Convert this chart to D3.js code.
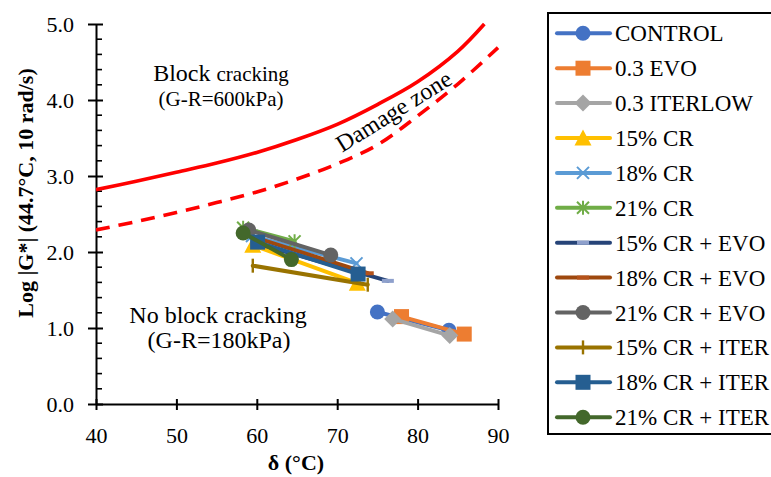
<!DOCTYPE html>
<html>
<head>
<meta charset="utf-8">
<script src="https://cdn.jsdelivr.net/npm/d3@7"></script>
<style>
  html, body { margin: 0; padding: 0; background: #fff; }
  svg text { font-family: "Liberation Serif", "Times New Roman", "DejaVu Serif", serif !important; fill: #000; }
</style>
</head>
<body>
<svg id="chart" width="771" height="477"></svg>
<script>
// Glover-Rowe limit curves (δ in °C, log |G*| in kPa)
const limitDelta600 = [40, 45, 50, 55, 60, 65, 70, 75, 80, 85, 88.3];
const limitLogG600  = [2.82, 2.93, 3.05, 3.17, 3.31, 3.48, 3.68, 3.94, 4.24, 4.64, 5.0];
const limitDelta180 = [40, 45, 50, 55, 60, 65, 70, 75, 80, 85, 90];
const limitLogG180  = [2.29, 2.40, 2.52, 2.65, 2.79, 2.96, 3.16, 3.41, 3.79, 4.21, 4.69];

// Binder series
const seriesNames = [
  "CONTROL", "0.3 EVO", "0.3 ITERLOW", "15% CR", "18% CR", "21% CR",
  "15% CR + EVO", "18% CR + EVO", "21% CR + EVO",
  "15% CR + ITER", "18% CR + ITER", "21% CR + ITER"
];
const seriesDelta = [
  [75.0, 83.9], [78.0, 85.8], [76.9, 84.0], [59.5, 72.5], [59.4, 72.4], [58.3, 64.7],
  [60.0, 76.3], [60.1, 73.8], [59.0, 69.2], [59.5, 73.8], [60.1, 72.6], [58.3, 64.3]
];
const seriesLogG = [
  [1.21, 0.97], [1.15, 0.92], [1.12, 0.90], [2.09, 1.59], [2.21, 1.85], [2.32, 2.14],
  [2.11, 1.62], [2.18, 1.72], [2.29, 1.96], [1.82, 1.57], [2.13, 1.71], [2.25, 1.90]
];
const seriesColors = [
  "#4472C4", "#ED7D31", "#A5A5A5", "#FFC000", "#5B9BD5", "#70AD47",
  "#264478", "#9E480E", "#636363", "#997300", "#255E91", "#43682B"
];
const seriesMarkers = [
  "circle", "square", "diamond", "triangle", "x", "asterisk",
  "dash", "dash", "circle", "plus", "square", "circle"
];
const dashMarkerColors = { 6: "#8EA0CC", 7: "#B5521A" };

const xTicks = [40, 50, 60, 70, 80, 90];
const yTicks = [0, 1, 2, 3, 4, 5];

const svg = d3.select("#chart");
const x = d3.scaleLinear().domain([40, 90]).range([96, 498]);
const y = d3.scaleLinear().domain([0, 5]).range([404, 24]);

// clip for the limit curves
svg.append("defs").append("clipPath").attr("id", "plotClip")
  .append("rect").attr("x", 96).attr("y", 22).attr("width", 404).attr("height", 384);

// y minor ticks (inside)
const yMinor = d3.range(0, 5.0001, 0.2).filter(v => Math.abs(v - Math.round(v)) > 1e-6);
svg.append("g").selectAll("line").data(yMinor).join("line")
  .attr("x1", x(40)).attr("x2", x(40) + 6)
  .attr("y1", d => y(d)).attr("y2", d => y(d))
  .attr("stroke", "#000").attr("stroke-width", 1.6);

// axes
const xAxis = svg.append("g").attr("transform", `translate(0,${y(0)})`)
  .call(d3.axisBottom(x).tickValues(xTicks).tickFormat(d3.format("d")).tickSizeOuter(0).tickSizeInner(5).tickPadding(18));
xAxis.select(".domain").attr("stroke", "#000").attr("stroke-width", 2);
xAxis.selectAll(".tick line").attr("y1", -5).attr("y2", 6).attr("stroke", "#000").attr("stroke-width", 2);
xAxis.selectAll(".tick text").attr("font-size", 22);

const yAxis = svg.append("g").attr("transform", `translate(${x(40)},0)`)
  .call(d3.axisLeft(y).tickValues(yTicks).tickFormat(d3.format(".1f")).tickSizeOuter(0).tickSizeInner(8).tickPadding(14));
yAxis.select(".domain").attr("stroke", "#000").attr("stroke-width", 2);
yAxis.selectAll(".tick line").attr("x1", -8).attr("x2", 7).attr("stroke", "#000").attr("stroke-width", 2);
yAxis.selectAll(".tick text").attr("font-size", 22);

// axis titles
svg.append("text").attr("x", 296).attr("y", 470).attr("text-anchor", "middle")
  .attr("font-size", 22).attr("font-weight", "bold").text("δ (°C)");
svg.append("text").attr("transform", "translate(33,193) rotate(-90)").attr("text-anchor", "middle")
  .attr("font-size", 22).attr("font-weight", "bold").text("Log |G*| (44.7°C, 10 rad/s)");

// limit curves
const curveLine = d3.line().x(d => x(d[0])).y(d => y(d[1])).curve(d3.curveCatmullRom.alpha(0.5));
const plotLayer = svg.append("g").attr("clip-path", "url(#plotClip)");
plotLayer.append("path")
  .attr("d", curveLine(d3.zip(limitDelta600, limitLogG600)))
  .attr("fill", "none").attr("stroke", "#FF0000").attr("stroke-width", 3.6);
plotLayer.append("path")
  .attr("d", curveLine(d3.zip(limitDelta180, limitLogG180)))
  .attr("fill", "none").attr("stroke", "#FF0000").attr("stroke-width", 3.6)
  .attr("stroke-dasharray", "14 9");

// region annotations
const blockLabel = svg.append("text").attr("x", 221).attr("y", 81).attr("text-anchor", "middle");
blockLabel.append("tspan").attr("font-size", 24).text("Block ");
blockLabel.append("tspan").attr("font-size", 21).text("cracking");
svg.append("text").attr("x", 221).attr("y", 106).attr("text-anchor", "middle")
  .attr("font-size", 21).text("(G-R=600kPa)");
svg.append("text").attr("x", 218).attr("y", 323).attr("text-anchor", "middle")
  .attr("font-size", 24).text("No block cracking");
svg.append("text").attr("x", 219).attr("y", 348).attr("text-anchor", "middle")
  .attr("font-size", 24).text("(G-R=180kPa)");
svg.append("text").attr("transform", "translate(398,118) rotate(-32)").attr("text-anchor", "middle")
  .attr("font-size", 24).text("Damage zone");

// marker drawing
function drawMarker(g, type, color, i) {
  const s = 7.5;
  if (type === "circle") {
    g.append("circle").attr("r", s).attr("fill", color);
  } else if (type === "square") {
    g.append("rect").attr("x", -s).attr("y", -s).attr("width", 2 * s).attr("height", 2 * s).attr("fill", color);
  } else if (type === "diamond") {
    g.append("path").attr("d", `M0,${-s - 1}L${s + 1},0L0,${s + 1}L${-s - 1},0Z`).attr("fill", color);
  } else if (type === "triangle") {
    g.append("path").attr("d", `M0,${-s - 1}L${s + 1},${s}L${-s - 1},${s}Z`).attr("fill", color);
  } else if (type === "x") {
    g.append("path").attr("d", `M-6,-6L6,6M-6,6L6,-6`).attr("stroke", color).attr("stroke-width", 2).attr("fill", "none");
  } else if (type === "asterisk") {
    g.append("path").attr("d", `M-6,-6L6,6M-6,6L6,-6M0,-7L0,7`).attr("stroke", color).attr("stroke-width", 2).attr("fill", "none");
  } else if (type === "plus") {
    g.append("path").attr("d", `M0,-7L0,7`).attr("stroke", color).attr("stroke-width", 2.4).attr("fill", "none");
  } else if (type === "dash") {
    g.append("rect").attr("x", -6).attr("y", -2).attr("width", 12).attr("height", 4).attr("fill", dashMarkerColors[i]);
  }
}

// series
const seriesLine = d3.line().x(d => x(d[0])).y(d => y(d[1]));
seriesNames.forEach((name, i) => {
  const pts = d3.zip(seriesDelta[i], seriesLogG[i]);
  const g = svg.append("g").attr("class", "series");
  g.append("path").attr("d", seriesLine(pts)).attr("fill", "none")
    .attr("stroke", seriesColors[i]).attr("stroke-width", 4).attr("stroke-linecap", "round");
  pts.forEach(p => {
    const m = g.append("g").attr("transform", `translate(${x(p[0])},${y(p[1])})`);
    drawMarker(m, seriesMarkers[i], seriesColors[i], i);
  });
});

// legend
const legend = svg.append("g");
legend.append("rect").attr("x", 548).attr("y", 13).attr("width", 260).attr("height", 421)
  .attr("fill", "#fff").attr("stroke", "#000").attr("stroke-width", 2);
seriesNames.forEach((name, i) => {
  const cy = 33.3 + i * 34.9;
  const row = legend.append("g");
  row.append("line").attr("x1", 557).attr("x2", 610).attr("y1", cy).attr("y2", cy)
    .attr("stroke", seriesColors[i]).attr("stroke-width", 4).attr("stroke-linecap", "round");
  const m = row.append("g").attr("transform", `translate(583,${cy})`);
  drawMarker(m, seriesMarkers[i], seriesColors[i], i);
  row.append("text").attr("x", 615).attr("y", cy + 8).attr("font-size", 23).text(name);
});
</script>
</body>
</html>
